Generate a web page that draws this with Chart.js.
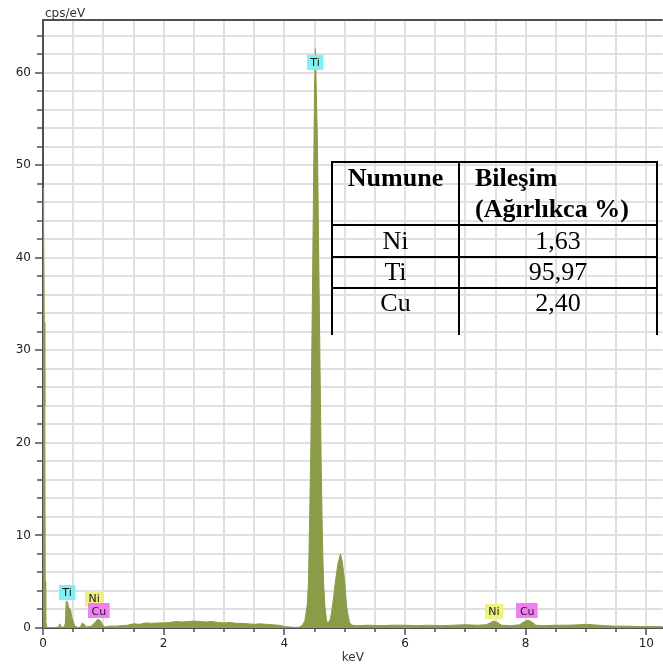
<!DOCTYPE html>
<html>
<head>
<meta charset="utf-8">
<script src="https://cdn.jsdelivr.net/npm/chart.js@4.4.0/dist/chart.umd.min.js"></script>
<style>
  html, body { margin: 0; padding: 0; background: #fff; }
  #kutu { position: relative; width: 663px; height: 671px; }
  #spektrum { position: absolute; left: 0; top: 0; }
  .tablo { position: absolute; left: 0; top: 0; width: 663px; height: 671px; pointer-events: none;
           font-family: "Liberation Serif", "Times New Roman", serif; font-size: 26px; color: #000; }
  .cizgi { position: absolute; background: #000; }
  .yazi { position: absolute; line-height: 26px; white-space: nowrap; }
  .orta { text-align: center; }
  .kalin { font-weight: bold; }
</style>
</head>
<body>
<div id="kutu">
  <canvas id="spektrum" width="663" height="671"></canvas>
  <div class="tablo" id="tablo"></div>
</div>
<script>
// EDS spektrumu: enerji (keV) ve sayim (cps/eV)
const enerji = [
  0.000, 0.006, 0.014, 0.022, 0.030, 0.037, 0.045, 0.06, 0.10, 0.20, 0.26, 0.28, 0.30, 0.35,
  0.37, 0.385, 0.405, 0.425, 0.455, 0.48, 0.51, 0.53, 0.58, 0.62, 0.65, 0.68, 0.72,
  0.80, 0.86, 0.91, 0.95, 0.99, 1.03, 1.10, 1.20, 1.30, 1.40, 1.50, 1.60, 1.70, 1.80,
  1.90, 2.00, 2.10, 2.20, 2.30, 2.40, 2.50, 2.60, 2.70, 2.80, 2.90, 3.00, 3.10, 3.20,
  3.30, 3.40, 3.50, 3.60, 3.70, 3.80, 3.90, 3.96, 4.00, 4.10, 4.20, 4.25, 4.30, 4.34,
  4.38, 4.40, 4.42, 4.44, 4.46, 4.48, 4.50, 4.515, 4.53, 4.55, 4.57, 4.59, 4.61, 4.63,
  4.65, 4.67, 4.70, 4.72, 4.76, 4.78, 4.81, 4.85, 4.89, 4.93, 4.96, 5.00, 5.03, 5.05,
  5.08, 5.12, 5.20, 5.40, 5.60, 5.80, 6.00, 6.20, 6.40, 6.60, 6.80, 7.00, 7.20, 7.35,
  7.42, 7.47, 7.53, 7.60, 7.75, 7.90, 7.98, 8.04, 8.10, 8.17, 8.30, 8.50, 8.70, 8.90,
  9.00, 9.10, 9.30, 9.50, 9.70, 9.90, 10.10, 10.27
];
const sayim = [
  47.5, 47.5, 44, 33, 24, 5, 0.8, 0.1, 0.05, 0.05, 0.1, 0.45, 0.1, 0.1,
  0.5, 2.9, 2.85, 2.2, 2.0, 1.1, 0.5, 0.2, 0.05, 0.1, 0.55, 0.4, 0.1,
  0.2, 0.6, 0.95, 0.8, 0.3, 0.1, 0.2, 0.2, 0.25, 0.3, 0.45, 0.4, 0.55, 0.5,
  0.55, 0.55, 0.6, 0.7, 0.65, 0.7, 0.75, 0.7, 0.65, 0.7, 0.6, 0.55, 0.6, 0.5,
  0.5, 0.45, 0.4, 0.45, 0.4, 0.35, 0.3, 0.25, 0.15, 0.1, 0.05, 0.1, 0.3, 0.8,
  2.5, 5, 12, 20, 33, 45, 58, 62.6, 58, 52, 40, 29, 18, 10,
  5, 2.5, 0.8, 0.5, 0.9, 1.6, 3, 5.2, 7, 8.0, 7.2, 5, 2.5, 1.6,
  0.6, 0.3, 0.25, 0.3, 0.25, 0.3, 0.3, 0.25, 0.3, 0.25, 0.3, 0.35, 0.3, 0.35,
  0.6, 0.75, 0.6, 0.3, 0.25, 0.35, 0.7, 0.85, 0.65, 0.3, 0.25, 0.3, 0.3, 0.35,
  0.4, 0.35, 0.25, 0.2, 0.2, 0.15, 0.15, 0.15
];

// pik etiketleri
const pikAdlari = ["Ti", "Ti", "Ni", "Cu", "Ni", "Cu"];
const pikEnerji = [4.508, 0.398, 0.849, 0.926, 7.473, 8.026];
const pikSeviye = [61.1, 3.87, 3.2, 1.84, 1.79, 1.84];

// tablo
const tabloBaslik = ["Numune", "Bileşim", "(Ağırlıkca %)"];
const elementler = ["Ni", "Ti", "Cu"];
const agirlikYuzde = ["1,63", "95,97", "2,40"];

const renkler = { Ti: "#80f0f0", Ni: "#f0f080", Cu: "#f080f0" };

const etiketler = {
  id: "etiketler",
  afterDatasetsDraw(chart) {
    const { ctx, scales: { x, y } } = chart;
    ctx.save();
    ctx.font = '11px "DejaVu Sans"';
    ctx.textAlign = "center";
    ctx.textBaseline = "middle";
    pikAdlari.forEach((ad, i) => {
      const px = x.getPixelForValue(pikEnerji[i]);
      const py = y.getPixelForValue(pikSeviye[i]);
      const w = ctx.measureText(ad).width + 7;
      const h = 15;
      ctx.fillStyle = renkler[ad];
      ctx.fillRect(Math.round(px - w / 2), Math.round(py - h / 2), w, h);
      ctx.fillStyle = "#1a1a1a";
      ctx.fillText(ad, px, py + 1);
    });
    ctx.restore();
  }
};

const tikler = {
  id: "tikler",
  afterDraw(chart) {
    const { ctx, chartArea: a, scales: { x, y } } = chart;
    ctx.save();
    ctx.strokeStyle = "#505050";
    ctx.lineWidth = 2;
    ctx.beginPath();
    ctx.moveTo(a.left - 1, a.top);
    ctx.lineTo(a.right, a.top);
    ctx.stroke();
    ctx.lineWidth = 1.5;
    ctx.beginPath();
    y.ticks.forEach(t => {
      const py = Math.round(y.getPixelForValue(t.value));
      const len = t.value % 10 === 0 ? 8 : 6;
      ctx.moveTo(a.left - len, py);
      ctx.lineTo(a.left, py);
    });
    x.ticks.forEach(t => {
      const px = Math.round(x.getPixelForValue(t.value));
      const len = Math.abs(t.value / 2 - Math.round(t.value / 2)) < 1e-6 ? 7 : 4;
      ctx.moveTo(px, a.bottom);
      ctx.lineTo(px, a.bottom + len);
    });
    ctx.stroke();
    ctx.fillStyle = "#333";
    ctx.font = '12px "DejaVu Sans"';
    ctx.textAlign = "left";
    ctx.textBaseline = "alphabetic";
    ctx.fillText("cps/eV", 45, 17);
    ctx.restore();
  }
};

new Chart(document.getElementById("spektrum"), {
  type: "line",
  data: {
    datasets: [{
      data: enerji.map((e, i) => ({ x: e, y: sayim[i] })),
      borderColor: "#8a9c48",
      backgroundColor: "#8a9c48",
      borderWidth: 1,
      pointRadius: 0,
      tension: 0,
      fill: "origin"
    }]
  },
  options: {
    responsive: false,
    animation: false,
    layout: { padding: { top: 20, left: 0, right: 0, bottom: 0 } },
    plugins: { legend: { display: false }, tooltip: { enabled: false } },
    scales: {
      x: {
        type: "linear",
        min: 0,
        max: 10.27,
        afterFit(s) { s.height = 43; },
        grid: { color: "#e0e0e0", lineWidth: 2, drawTicks: false },
        border: { color: "#505050", width: 2 },
        ticks: {
          stepSize: 0.5,
          includeBounds: false,
          autoSkip: false,
          maxRotation: 0,
          padding: 9,
          color: "#222",
          font: { family: "DejaVu Sans", size: 12 },
          callback: v => (Math.abs(v / 2 - Math.round(v / 2)) < 1e-6 ? String(Math.round(v)) : "")
        },
        title: {
          display: true,
          text: "keV",
          color: "#333",
          font: { family: "DejaVu Sans", size: 12 },
          padding: { top: 0, bottom: 6 }
        }
      },
      y: {
        min: 0,
        max: 65.7,
        afterFit(s) { s.width = 43; },
        grid: { color: "#e0e0e0", lineWidth: 2, drawTicks: false },
        border: { color: "#505050", width: 2 },
        ticks: {
          stepSize: 2,
          includeBounds: false,
          autoSkip: false,
          padding: 12,
          color: "#222",
          font: { family: "DejaVu Sans", size: 12 },
          callback: v => (v % 10 === 0 ? String(v) : "")
        }
      }
    }
  },
  plugins: [etiketler, tikler]
});

// tabloyu kur
const tablo = document.getElementById("tablo");
function cizgi(l, t, w, h) {
  const d = document.createElement("div");
  d.className = "cizgi";
  Object.assign(d.style, { left: l + "px", top: t + "px", width: w + "px", height: h + "px" });
  tablo.appendChild(d);
}
function yazi(metin, l, taban, w, sinif) {
  const d = document.createElement("div");
  d.className = "yazi " + sinif;
  d.textContent = metin;
  d.style.left = l + "px";
  d.style.top = (taban - 22) + "px";
  if (w) d.style.width = w + "px";
  tablo.appendChild(d);
}
cizgi(331, 161, 327, 2);
cizgi(331, 224, 327, 2);
cizgi(331, 256, 327, 2);
cizgi(331, 287, 327, 2);
cizgi(331, 161, 2, 174);
cizgi(458, 161, 2, 174);
cizgi(656, 161, 2, 174);
yazi(tabloBaslik[0], 332, 187, 127, "orta kalin");
yazi(tabloBaslik[1], 475, 187, 0, "kalin");
yazi(tabloBaslik[2], 475, 218, 0, "kalin");
elementler.forEach((el, i) => {
  const taban = 250 + i * 31;
  yazi(el, 332, taban, 127, "orta");
  yazi(agirlikYuzde[i], 459, taban, 198, "orta");
});
</script>
</body>
</html>
